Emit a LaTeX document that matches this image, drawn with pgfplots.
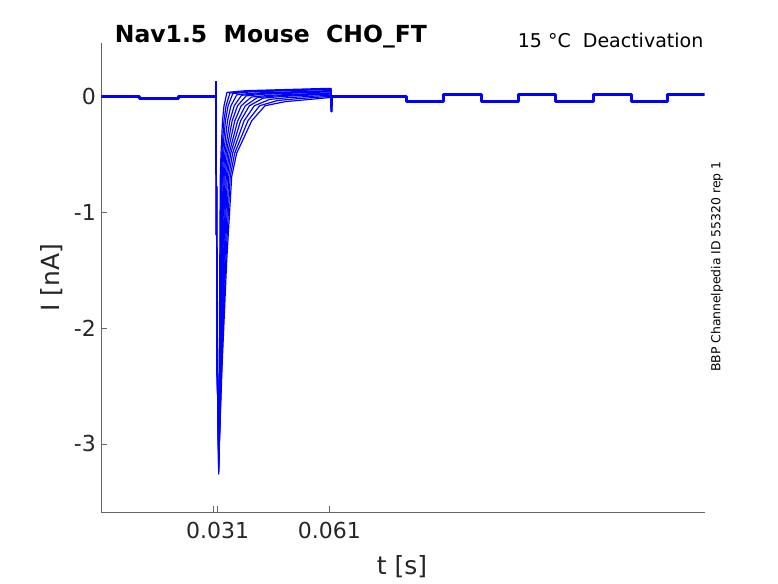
\documentclass[border=0pt]{standalone}
\usepackage{fontspec}
\setmainfont{DejaVu Sans}
\usepackage{pgfplots}
\pgfplotsset{compat=1.18}
\definecolor{axgray}{rgb}{0.4,0.4,0.4}
\definecolor{txtgray}{rgb}{0.15,0.15,0.15}
\begin{document}
\begin{tikzpicture}
\useasboundingbox (-101.3pt,-70.7pt) rectangle (676.7pt,512.3pt);
\begin{axis}[
 at={(0pt,0pt)}, anchor=south west, scale only axis,
 width=603.4pt, height=469pt,
 xmin=0, xmax=161.25, ymin=-3.59, ymax=0.459,
 axis x line*=bottom, axis y line*=left,
 axis line style={axgray, line width=0.6pt, -},
 xtick={29.93,31.11,60.93}, xticklabels={,0.031,0.061},
 ytick={-3,-2,-1,0}, yticklabels={-3,-2,-1,0},
 tick align=inside, major tick length=6pt,
 tick style={axgray, line width=0.6pt},
 ticklabel style={font=\fontsize{22}{26}\selectfont, text=txtgray},
 xticklabel style={yshift=-6pt},
 yticklabel style={xshift=-2pt},
 tail/.style={blue, line width=1.2pt, line join=round},
 base/.style={blue, line width=3pt, line join=round},
]
% baseline before the pulse
\addplot[base] coordinates {(0,0) (10.34,0) (10.34,-0.02) (20.58,-0.02) (20.58,0) (30.55,0)};
% baseline after the pulse
\addplot[base] coordinates {(61.65,0) (81.61,0) (81.61,-0.045) (91.58,-0.045) (91.58,0.02) (101.47,0.02) (101.47,-0.045) (111.55,-0.045) (111.55,0.02) (121.51,0.02) (121.51,-0.045) (131.40,-0.045) (131.40,0.02) (141.56,0.02) (141.56,-0.045) (151.44,-0.045) (151.44,0.02) (161.25,0.02)};
% tail currents
\addplot[tail] coordinates {(30.55,0) (30.60,0.128) (30.66,0) (30.84,-1.42) (30.95,-2.28) (31.37,-3.26) (31.53,-2.28) (31.67,-1.42) (31.80,-0.69) (31.99,-0.49) (32.39,-0.21) (32.79,-0.08) (33.59,0.035) (38.6,0.05) (60.8,0.07) (61.39,0.07) (61.50,-0.13) (61.65,0)};
\addplot[tail] coordinates {(30.55,0) (30.60,0.128) (30.66,0) (30.84,-1.42) (30.95,-2.28) (31.38,-3.24) (31.57,-2.28) (31.76,-1.42) (31.95,-0.69) (32.20,-0.49) (32.78,-0.21) (33.34,-0.08) (34.37,0.03) (39.4,0.045) (60.8,0.065) (61.39,0.065) (61.50,-0.13) (61.65,0)};
\addplot[tail] coordinates {(30.55,0) (30.60,0.128) (30.66,0) (30.84,-1.42) (30.95,-2.28) (31.39,-3.22) (31.61,-2.28) (31.85,-1.42) (32.10,-0.69) (32.41,-0.49) (33.17,-0.21) (33.89,-0.08) (35.14,0.025) (40.1,0.04) (60.8,0.06) (61.39,0.06) (61.50,-0.13) (61.65,0)};
\addplot[tail] coordinates {(30.55,0) (30.60,0.128) (30.66,0) (30.84,-1.42) (30.95,-2.28) (31.40,-3.20) (31.67,-2.28) (31.98,-1.42) (32.32,-0.69) (32.70,-0.49) (33.72,-0.21) (34.65,-0.08) (36.23,0.015) (41.2,0.03) (60.8,0.05) (61.39,0.05) (61.50,-0.13) (61.65,0)};
\addplot[tail] coordinates {(30.55,0) (30.60,0.128) (30.66,0) (30.84,-1.42) (30.95,-2.28) (31.41,-3.18) (31.73,-2.28) (32.13,-1.42) (32.56,-0.69) (33.04,-0.49) (34.34,-0.21) (35.53,-0.08) (37.47,0.01) (42.5,0.025) (60.8,0.045) (61.39,0.045) (61.50,-0.13) (61.65,0)};
\addplot[tail] coordinates {(30.55,0) (30.60,0.128) (30.66,0) (30.84,-1.42) (30.95,-2.28) (31.43,-3.15) (31.80,-2.28) (32.28,-1.42) (32.81,-0.69) (33.37,-0.49) (34.97,-0.21) (36.41,-0.08) (38.71,0.005) (43.7,0.02) (60.8,0.04) (61.39,0.04) (61.50,-0.13) (61.65,0)};
\addplot[tail] coordinates {(30.55,0) (30.60,0.128) (30.66,0) (30.84,-1.42) (30.95,-2.28) (31.44,-3.13) (31.87,-2.28) (32.44,-1.42) (33.08,-0.69) (33.75,-0.49) (35.67,-0.21) (37.39,-0.08) (40.10,-0.005) (45.1,0.01) (60.8,0.03) (61.39,0.03) (61.50,-0.13) (61.65,0)};
\addplot[tail] coordinates {(30.55,0) (30.60,0.128) (30.66,0) (30.84,-1.42) (30.95,-2.28) (31.46,-3.10) (31.95,-2.28) (32.63,-1.42) (33.39,-0.69) (34.17,-0.49) (36.45,-0.21) (38.49,-0.08) (41.65,-0.01) (46.7,0.005) (60.8,0.025) (61.39,0.025) (61.50,-0.13) (61.65,0)};
\addplot[tail] coordinates {(30.55,0) (30.60,0.128) (30.66,0) (30.84,-1.42) (30.95,-2.28) (31.47,-3.08) (32.03,-2.28) (32.81,-1.42) (33.69,-0.69) (34.59,-0.49) (37.23,-0.21) (39.58,-0.08) (43.20,-0.015) (48.2,0) (60.8,0.02) (61.39,0.02) (61.50,-0.13) (61.65,0)};
\addplot[tail] coordinates {(30.55,0) (30.60,0.128) (30.66,0) (30.84,-1.42) (30.95,-2.28) (31.49,-3.05) (32.13,-2.28) (33.03,-1.42) (34.06,-0.69) (35.09,-0.49) (38.16,-0.21) (40.90,-0.08) (45.06,-0.025) (50.1,-0.01) (60.8,0.01) (61.39,0.01) (61.50,-0.13) (61.65,0)};
\addplot[tail] coordinates {(30.55,0) (30.60,0.128) (30.66,0) (30.84,-1.42) (30.95,-2.28) (31.51,-3.03) (32.23,-2.28) (33.27,-1.42) (34.45,-0.69) (35.64,-0.49) (39.18,-0.21) (42.32,-0.08) (47.08,-0.035) (52.1,-0.02) (60.8,0) (61.39,0) (61.50,-0.13) (61.65,0)};
\addplot[tail] coordinates {(30.55,0) (30.60,0.128) (30.66,0) (30.84,-1.42) (30.95,-2.28) (31.53,-3.00) (32.34,-2.28) (33.51,-1.42) (34.85,-0.69) (36.18,-0.49) (40.19,-0.21) (43.75,-0.08) (49.09,-0.045) (54.1,-0.03) (60.8,-0.01) (61.39,-0.01) (61.50,-0.13) (61.65,0)};
\end{axis}
\node[anchor=base west, font=\fontsize{23.5}{28}\selectfont\bfseries] at (10pt,469.6pt) {Nav1.5\ \ Mouse\ \ CHO\_FT};
\node[anchor=base west, font=\fontsize{19}{23}\selectfont] at (413pt,465pt) {15 °C\ \ Deactivation};
\node[rotate=90, font=\fontsize{25}{30}\selectfont, text=txtgray] at (-50pt,234.8pt) {I [nA]};
\node[font=\fontsize{25}{30}\selectfont, text=txtgray] at (300.7pt,-54.7pt) {t [s]};
\node[rotate=90, font=\fontsize{12.4}{14}\selectfont] at (615.7pt,245.6pt) {BBP Channelpedia ID 55320 rep 1};
\end{tikzpicture}
\end{document}
